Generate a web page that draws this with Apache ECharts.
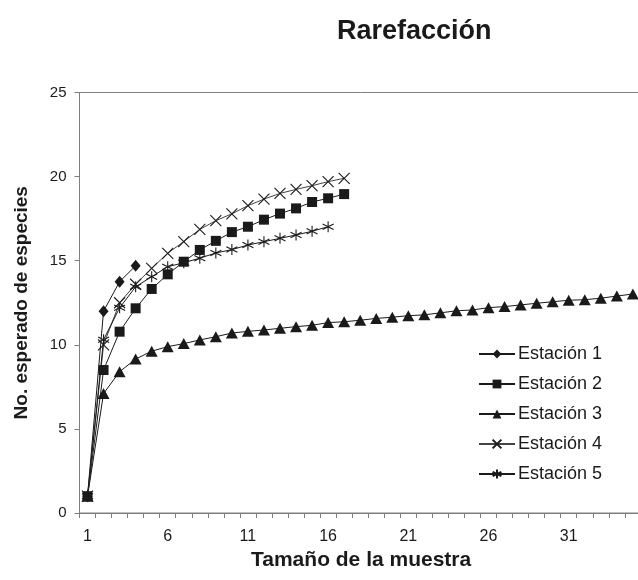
<!DOCTYPE html>
<html>
<head>
<meta charset="utf-8">
<script src="https://cdn.jsdelivr.net/npm/echarts@6/dist/echarts.min.js"></script>
<style>
  html, body { margin: 0; padding: 0; background: #ffffff; overflow: hidden; }
  /* the plot area runs a little past the right edge of the window */
  #chart { width: 660px; height: 580px; }
</style>
</head>
<body>
<div id="chart"></div>
<script>
// Sample sizes on the category axis
const sampleSizes = ['1','2','3','4','5','6','7','8','9','10','11','12','13','14','15','16','17','18','19','20',
  '21','22','23','24','25','26','27','28','29','30','31','32','33','34','35'];

// Expected number of species per station
const estacion1 = [1, 12.0, 13.75, 14.7];
const estacion2 = [1, 8.5, 10.78, 12.17, 13.32, 14.19, 14.94, 15.64, 16.18, 16.7, 17.02, 17.44, 17.8, 18.11,
  18.49, 18.71, 18.96];
const estacion3 = [1, 7.1, 8.4, 9.15, 9.62, 9.89, 10.07, 10.29, 10.48, 10.7, 10.8, 10.88, 10.98, 11.08, 11.16,
  11.32, 11.37, 11.46, 11.57, 11.64, 11.73, 11.78, 11.9, 12.02, 12.07, 12.21, 12.27, 12.37, 12.47, 12.56,
  12.65, 12.68, 12.77, 12.9, 13.02];
const estacion4 = [1, 10.0, 12.5, 13.6, 14.55, 15.44, 16.14, 16.86, 17.38, 17.79, 18.27, 18.66, 19.0, 19.24,
  19.46, 19.7, 19.9];
const estacion5 = [1, 10.3, 12.2, 13.45, 14.05, 14.64, 14.88, 15.15, 15.46, 15.66, 15.93, 16.13, 16.33, 16.53,
  16.75, 17.02];

// Tick values on the vertical axis
const yTicks = { min: 0, max: 25, step: 5 };

const seriesNames = ['Estación 1', 'Estación 2', 'Estación 3', 'Estación 4', 'Estación 5'];

const FONT = '"Liberation Sans", Arial, sans-serif';
const INK = '#1a1a1a';
const AXIS_GREY = '#7f7f7f';

const crossPath = 'path://M0,0L10,10M10,0L0,10';
const asteriskPath = 'path://M5,0L5,10M0.67,2.5L9.33,7.5M0.67,7.5L9.33,2.5';

function lineSeries(name, data, symbol, size, opts) {
  opts = opts || {};
  return {
    name: name,
    type: 'line',
    data: data,
    symbol: symbol,
    symbolSize: size,
    showSymbol: true,
    showAllSymbol: true,
    smooth: false,
    lineStyle: { color: opts.lineColor || INK, width: 1 },
    itemStyle: opts.stroked
      ? { color: 'none', borderColor: INK, borderWidth: 1.1 }
      : { color: INK, borderColor: INK, borderWidth: 0 },
    emphasis: { disabled: true },
    animation: false
  };
}

const chart = echarts.init(document.getElementById('chart'), null, { renderer: 'canvas' });

chart.setOption({
  backgroundColor: '#ffffff',
  animation: false,
  title: {
    text: 'Rarefacción',
    left: 332,
    top: 13,
    textStyle: { fontFamily: FONT, fontSize: 27, fontWeight: 'bold', color: INK }
  },
  grid: {
    left: 79.5,
    top: 92.5,
    width: 561.4,
    height: 420.5,
    show: true,
    borderColor: AXIS_GREY,
    borderWidth: 1,
    backgroundColor: 'transparent'
  },
  legend: {
    orient: 'vertical',
    left: 478,
    top: 345,
    padding: 0,
    itemWidth: 36,
    itemHeight: 11,
    itemGap: 12,
    data: seriesNames,
    textStyle: { fontFamily: FONT, fontSize: 18, color: INK, padding: [0, 0, 0, -2] },
    selectedMode: false
  },
  xAxis: {
    type: 'category',
    data: sampleSizes,
    boundaryGap: true,
    axisLine: { show: true, lineStyle: { color: AXIS_GREY, width: 1 } },
    axisTick: { show: true, interval: 0, alignWithLabel: false, length: 5, lineStyle: { color: AXIS_GREY } },
    axisLabel: { interval: 4, fontFamily: FONT, fontSize: 16, color: INK, margin: 16 },
    splitLine: { show: false }
  },
  yAxis: {
    type: 'value',
    min: yTicks.min,
    max: yTicks.max,
    interval: yTicks.step,
    name: 'No. esperado de especies',
    nameLocation: 'middle',
    nameGap: 48,
    nameRotate: 90,
    nameTextStyle: { fontFamily: FONT, fontSize: 19, fontWeight: 'bold', color: INK },
    axisLine: { show: true, lineStyle: { color: AXIS_GREY, width: 1 } },
    axisTick: { show: true, length: 5, lineStyle: { color: AXIS_GREY } },
    axisLabel: { fontFamily: FONT, fontSize: 15, color: INK, margin: 13 },
    splitLine: { show: false }
  },
  graphic: [{
    type: 'text',
    left: 251,
    top: 550,
    style: {
      text: 'Tamaño de la muestra',
      font: 'bold 21px ' + FONT,
      fill: INK
    }
  }],
  series: [
    lineSeries(seriesNames[0], estacion1, 'diamond', [10, 12]),
    lineSeries(seriesNames[1], estacion2, 'rect', 10),
    lineSeries(seriesNames[2], estacion3, 'triangle', [12, 11]),
    lineSeries(seriesNames[3], estacion4, crossPath, 11, { stroked: true, lineColor: '#444' }),
    lineSeries(seriesNames[4], estacion5, asteriskPath, 11, { stroked: true })
  ]
});
</script>
</body>
</html>
